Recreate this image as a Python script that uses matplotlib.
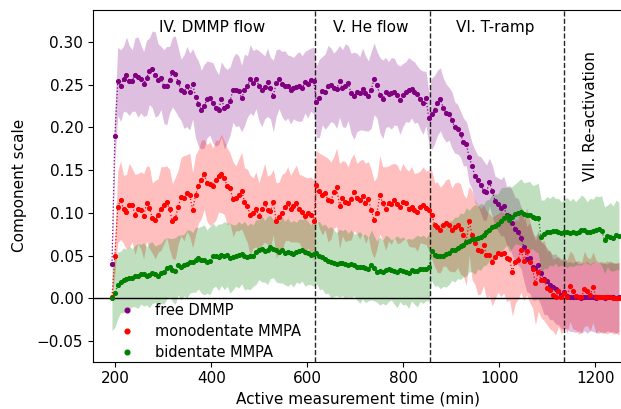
import numpy as np
import matplotlib
matplotlib.use("Agg")
import matplotlib.pyplot as plt

# measurement grid: one spectrum every 6 min
t_start, t_step, n_pts = 193, 6, 177
time = t_start + t_step * np.arange(n_pts)

free_dmmp = [
    0.040, 0.190, 0.254, 0.249, 0.257, 0.262, 0.255, 0.255, 0.262, 0.259,
    0.257, 0.251, 0.258, 0.266, 0.268, 0.262, 0.256, 0.258, 0.248, 0.249,
    0.256, 0.265, 0.263, 0.253, 0.244, 0.242, 0.248, 0.242, 0.251, 0.236,
    0.228, 0.221, 0.225, 0.233, 0.234, 0.229, 0.223, 0.221, 0.233, 0.223,
    0.225, 0.231, 0.244, 0.244, 0.243, 0.234, 0.244, 0.248, 0.257, 0.252,
    0.257, 0.249, 0.244, 0.247, 0.253, 0.246, 0.237, 0.252, 0.257, 0.251,
    0.249, 0.248, 0.244, 0.246, 0.247, 0.248, 0.246, 0.253, 0.251, 0.256,
    0.255, 0.230, 0.234, 0.243, 0.242, 0.249, 0.250, 0.246, 0.245, 0.254,
    0.246, 0.249, 0.252, 0.240, 0.237, 0.241, 0.240, 0.245, 0.240, 0.237,
    0.244, 0.257, 0.250, 0.238, 0.233, 0.241, 0.239, 0.240, 0.242, 0.238,
    0.232, 0.238, 0.242, 0.244, 0.245, 0.241, 0.239, 0.233, 0.229, 0.234,
    0.211, 0.216, 0.221, 0.229, 0.233, 0.223, 0.217, 0.216, 0.209, 0.200,
    0.198, 0.192, 0.183, 0.181, 0.165, 0.155, 0.143, 0.138, 0.133, 0.126,
    0.124, 0.136, 0.126, 0.114, 0.110, 0.106, 0.108, 0.097, 0.096, 0.088,
    0.081, 0.078, 0.071, 0.060, 0.046, 0.047, 0.037, 0.035, 0.039, 0.029,
    0.022, 0.020, 0.015, 0.013, 0.011, 0.008, 0.004, 0.007, 0.003, 0.002,
    0.001, 0.002, 0.001, 0.000, 0.002, 0.001, 0.001, 0.002, 0.000, 0.001,
    0.001, 0.000, 0.001, 0.002, 0.001, 0.000, 0.001,
]
free_dmmp_err = [
    0.004, 0.030, 0.040, 0.042, 0.038, 0.044, 0.041, 0.036, 0.043, 0.047,
    0.040, 0.038, 0.044, 0.039, 0.045, 0.050, 0.042, 0.037, 0.043, 0.046,
    0.039, 0.041, 0.044, 0.040, 0.036, 0.043, 0.047, 0.045, 0.041, 0.048,
    0.050, 0.046, 0.049, 0.045, 0.043, 0.047, 0.045, 0.041, 0.044, 0.048,
    0.043, 0.040, 0.038, 0.043, 0.041, 0.039, 0.042, 0.036, 0.040, 0.038,
    0.035, 0.041, 0.043, 0.037, 0.040, 0.036, 0.042, 0.039, 0.035, 0.038,
    0.041, 0.037, 0.040, 0.036, 0.039, 0.041, 0.038, 0.036, 0.040, 0.037,
    0.039, 0.042, 0.046, 0.040, 0.044, 0.047, 0.043, 0.041, 0.046, 0.042,
    0.045, 0.049, 0.044, 0.047, 0.051, 0.046, 0.043, 0.048, 0.044, 0.041,
    0.045, 0.042, 0.039, 0.044, 0.046, 0.041, 0.038, 0.042, 0.039, 0.036,
    0.040, 0.037, 0.035, 0.038, 0.034, 0.036, 0.033, 0.035, 0.037, 0.032,
    0.030, 0.042, 0.040, 0.038, 0.037, 0.035, 0.034, 0.031, 0.033, 0.030,
    0.029, 0.027, 0.028, 0.026, 0.030, 0.027, 0.031, 0.029, 0.033, 0.035,
    0.032, 0.028, 0.030, 0.029, 0.031, 0.033, 0.035, 0.034, 0.036, 0.038,
    0.037, 0.039, 0.036, 0.040, 0.038, 0.041, 0.039, 0.037, 0.040, 0.038,
    0.041, 0.039, 0.040, 0.038, 0.041, 0.039, 0.040, 0.042, 0.039, 0.041,
    0.040, 0.042, 0.039, 0.041, 0.040, 0.042, 0.039, 0.041, 0.040, 0.042,
    0.040, 0.041, 0.039, 0.042, 0.040, 0.041, 0.040,
]

mono_mmpa = [
    0.002, 0.049, 0.107, 0.115, 0.104, 0.101, 0.109, 0.109, 0.098, 0.105,
    0.103, 0.096, 0.111, 0.106, 0.094, 0.092, 0.097, 0.105, 0.109, 0.113,
    0.104, 0.090, 0.094, 0.107, 0.119, 0.117, 0.123, 0.121, 0.103, 0.121,
    0.131, 0.139, 0.145, 0.135, 0.134, 0.132, 0.138, 0.143, 0.146, 0.141,
    0.131, 0.129, 0.116, 0.117, 0.121, 0.126, 0.113, 0.108, 0.097, 0.100,
    0.104, 0.096, 0.104, 0.112, 0.103, 0.102, 0.113, 0.091, 0.095, 0.100,
    0.107, 0.111, 0.105, 0.108, 0.111, 0.105, 0.101, 0.096, 0.100, 0.098,
    0.091, 0.133, 0.126, 0.121, 0.123, 0.115, 0.114, 0.124, 0.130, 0.108,
    0.117, 0.113, 0.111, 0.116, 0.124, 0.117, 0.115, 0.120, 0.111, 0.116,
    0.103, 0.092, 0.100, 0.121, 0.111, 0.105, 0.111, 0.110, 0.115, 0.110,
    0.107, 0.113, 0.111, 0.105, 0.107, 0.103, 0.101, 0.107, 0.109, 0.106,
    0.103, 0.098, 0.086, 0.083, 0.080, 0.086, 0.088, 0.086, 0.080, 0.083,
    0.086, 0.081, 0.074, 0.066, 0.091, 0.074, 0.065, 0.057, 0.055, 0.062,
    0.051, 0.051, 0.043, 0.048, 0.053, 0.052, 0.053, 0.047, 0.046, 0.031,
    0.043, 0.045, 0.057, 0.044, 0.055, 0.043, 0.034, 0.018, 0.031, 0.021,
    0.021, 0.012, 0.010, 0.004, 0.002, 0.008, 0.002, 0.006, 0.002, 0.014,
    0.008, 0.003, 0.001, 0.001, 0.011, 0.008, 0.004, 0.013, 0.002, 0.002,
    0.001, 0.001, 0.001, 0.001, 0.000, 0.000, 0.000,
]
mono_mmpa_err = [
    0.004, 0.020, 0.042, 0.046, 0.040, 0.044, 0.049, 0.043, 0.047, 0.041,
    0.045, 0.050, 0.044, 0.048, 0.041, 0.046, 0.043, 0.049, 0.045, 0.042,
    0.047, 0.044, 0.048, 0.043, 0.046, 0.050, 0.045, 0.049, 0.044, 0.047,
    0.043, 0.046, 0.041, 0.045, 0.049, 0.044, 0.047, 0.042, 0.046, 0.043,
    0.045, 0.041, 0.044, 0.038, 0.042, 0.045, 0.040, 0.043, 0.047, 0.041,
    0.044, 0.039, 0.042, 0.046, 0.040, 0.043, 0.038, 0.044, 0.041, 0.045,
    0.040, 0.043, 0.039, 0.042, 0.045, 0.040, 0.043, 0.046, 0.041, 0.044,
    0.048, 0.040, 0.044, 0.047, 0.043, 0.049, 0.045, 0.042, 0.046, 0.050,
    0.044, 0.047, 0.043, 0.048, 0.045, 0.041, 0.046, 0.043, 0.047, 0.044,
    0.048, 0.045, 0.042, 0.046, 0.043, 0.049, 0.044, 0.047, 0.043, 0.046,
    0.042, 0.045, 0.041, 0.044, 0.047, 0.043, 0.046, 0.042, 0.045, 0.043,
    0.047, 0.052, 0.049, 0.053, 0.050, 0.048, 0.051, 0.054, 0.049, 0.052,
    0.050, 0.053, 0.048, 0.051, 0.040, 0.052, 0.049, 0.053, 0.050, 0.047,
    0.051, 0.048, 0.052, 0.049, 0.046, 0.050, 0.047, 0.051, 0.048, 0.052,
    0.049, 0.046, 0.050, 0.047, 0.051, 0.048, 0.045, 0.049, 0.046, 0.044,
    0.047, 0.043, 0.046, 0.042, 0.045, 0.041, 0.044, 0.040, 0.043, 0.041,
    0.044, 0.040, 0.043, 0.041, 0.044, 0.040, 0.042, 0.041, 0.043, 0.040,
    0.042, 0.041, 0.043, 0.040, 0.042, 0.041, 0.043,
]

bi_mmpa = [
    0.000, 0.006, 0.015, 0.019, 0.021, 0.022, 0.024, 0.024, 0.026, 0.026,
    0.028, 0.028, 0.026, 0.027, 0.030, 0.028, 0.026, 0.029, 0.031, 0.035,
    0.036, 0.033, 0.032, 0.039, 0.036, 0.039, 0.040, 0.043, 0.042, 0.045,
    0.047, 0.045, 0.045, 0.043, 0.044, 0.050, 0.049, 0.048, 0.051, 0.050,
    0.051, 0.047, 0.048, 0.050, 0.051, 0.052, 0.050, 0.048, 0.049, 0.050,
    0.054, 0.057, 0.058, 0.055, 0.056, 0.060, 0.058, 0.057, 0.054, 0.057,
    0.053, 0.054, 0.053, 0.052, 0.054, 0.055, 0.056, 0.054, 0.053, 0.051,
    0.052, 0.053, 0.050, 0.048, 0.046, 0.044, 0.042, 0.041, 0.040, 0.041,
    0.041, 0.040, 0.039, 0.040, 0.039, 0.037, 0.036, 0.037, 0.035, 0.034,
    0.039, 0.035, 0.031, 0.032, 0.031, 0.033, 0.034, 0.033, 0.032, 0.031,
    0.033, 0.032, 0.031, 0.029, 0.033, 0.032, 0.032, 0.034, 0.034, 0.034,
    0.036, 0.055, 0.051, 0.050, 0.049, 0.050, 0.052, 0.053, 0.056, 0.057,
    0.059, 0.061, 0.062, 0.066, 0.067, 0.069, 0.069, 0.071, 0.072, 0.074,
    0.077, 0.080, 0.083, 0.085, 0.087, 0.091, 0.094, 0.096, 0.092, 0.095,
    0.099, 0.100, 0.101, 0.099, 0.098, 0.097, 0.095, 0.094, 0.094, 0.072,
    0.075, 0.077, 0.078, 0.079, 0.079, 0.077, 0.076, 0.077, 0.077, 0.076,
    0.077, 0.076, 0.078, 0.080, 0.080, 0.077, 0.078, 0.079, 0.080, 0.081,
    0.079, 0.068, 0.073, 0.072, 0.070, 0.074, 0.073,
]
bi_mmpa_err = [
    0.038, 0.040, 0.039, 0.036, 0.038, 0.035, 0.037, 0.034, 0.036, 0.038,
    0.035, 0.037, 0.034, 0.038, 0.036, 0.033, 0.037, 0.035, 0.038, 0.036,
    0.034, 0.037, 0.039, 0.035, 0.038, 0.036, 0.040, 0.037, 0.035, 0.038,
    0.036, 0.039, 0.041, 0.037, 0.040, 0.038, 0.035, 0.039, 0.036, 0.040,
    0.037, 0.041, 0.038, 0.036, 0.039, 0.035, 0.040, 0.037, 0.039, 0.036,
    0.038, 0.035, 0.039, 0.036, 0.040, 0.037, 0.034, 0.038, 0.036, 0.039,
    0.037, 0.040, 0.036, 0.039, 0.035, 0.038, 0.036, 0.040, 0.037, 0.035,
    0.038, 0.036, 0.040, 0.037, 0.041, 0.038, 0.042, 0.039, 0.037, 0.040,
    0.038, 0.041, 0.037, 0.040, 0.036, 0.039, 0.042, 0.038, 0.040, 0.037,
    0.041, 0.038, 0.036, 0.040, 0.037, 0.041, 0.038, 0.035, 0.039, 0.042,
    0.037, 0.040, 0.038, 0.041, 0.036, 0.039, 0.042, 0.038, 0.040, 0.037,
    0.039, 0.034, 0.037, 0.035, 0.038, 0.036, 0.039, 0.037, 0.035, 0.038,
    0.036, 0.039, 0.037, 0.040, 0.036, 0.038, 0.041, 0.037, 0.039, 0.036,
    0.038, 0.036, 0.039, 0.037, 0.035, 0.038, 0.036, 0.034, 0.038, 0.036,
    0.035, 0.037, 0.039, 0.036, 0.038, 0.040, 0.037, 0.039, 0.041, 0.043,
    0.040, 0.042, 0.039, 0.041, 0.038, 0.040, 0.037, 0.039, 0.041, 0.038,
    0.040, 0.037, 0.039, 0.041, 0.038, 0.036, 0.039, 0.037, 0.040, 0.038,
    0.041, 0.039, 0.036, 0.040, 0.038, 0.041, 0.039,
]

series_labels = ["free DMMP", "monodentate MMPA", "bidentate MMPA"]
series_colors = ["purple", "red", "green"]

stage_bounds = [615, 856, 1135]
stage_names = ["IV. DMMP flow", "V. He flow", "VI. T-ramp", "VII. Re-activation"]
stage_label_x = [402, 733, 991, 1189]

x_ticks = [200, 400, 600, 800, 1000, 1200]
y_ticks = [-0.05, 0.00, 0.05, 0.10, 0.15, 0.20, 0.25, 0.30]

plt.rcParams["font.family"] = ["DejaVu Sans"]

fig = plt.figure(figsize=(6.21, 4.09), dpi=100)
ax = fig.add_axes([0.1498, 0.1157, 0.8519, 0.8599])

series = [(free_dmmp, free_dmmp_err), (mono_mmpa, mono_mmpa_err), (bi_mmpa, bi_mmpa_err)]
for (vals, err), lab, col in zip(series, series_labels, series_colors):
    v = np.asarray(vals)
    e = np.asarray(err)
    n = min(len(v), len(e), len(time))
    tt, v, e = time[:n], v[:n], e[:n]
    ax.fill_between(tt, v - e, v + e, color=col, alpha=0.25, linewidth=0, zorder=1)
    ax.plot(tt, v, linestyle=":", linewidth=0.9, color=col, zorder=3)
    ax.plot(tt, v, linestyle="none", marker="o", markersize=2.7,
            color=col, label=lab, zorder=4)

ax.axhline(0, color="black", linewidth=1.0, zorder=2)
for xb in stage_bounds:
    ax.axvline(xb, color="black", linestyle="--", linewidth=1.0, alpha=0.85, zorder=2)

for name, xc in zip(stage_names[:3], stage_label_x[:3]):
    ax.text(xc, 0.312, name, ha="center", va="baseline", fontsize=11)
ax.text(stage_label_x[3], 0.2137, stage_names[3], ha="center", va="center",
        rotation=90, fontsize=11)

ax.set_xlim(153.5, 1255.5)
ax.set_ylim(-0.0743, 0.3376)
ax.set_xticks(x_ticks)
ax.set_yticks(y_ticks)
ax.set_yticklabels([f"{y:.2f}".replace("-", "\u2212") for y in y_ticks])
ax.tick_params(labelsize=11)
ax.set_xlabel("Active measurement time (min)", fontsize=11)
ax.set_ylabel("Component scale", fontsize=11, labelpad=7)

ax.legend(loc="lower left", bbox_to_anchor=(0.025, -0.012), frameon=False,
          fontsize=10.5, labelspacing=0.4, handletextpad=0.95,
          borderaxespad=0.0, handlelength=2.0, markerscale=1.25)

fig.savefig("out.png", dpi=100)
